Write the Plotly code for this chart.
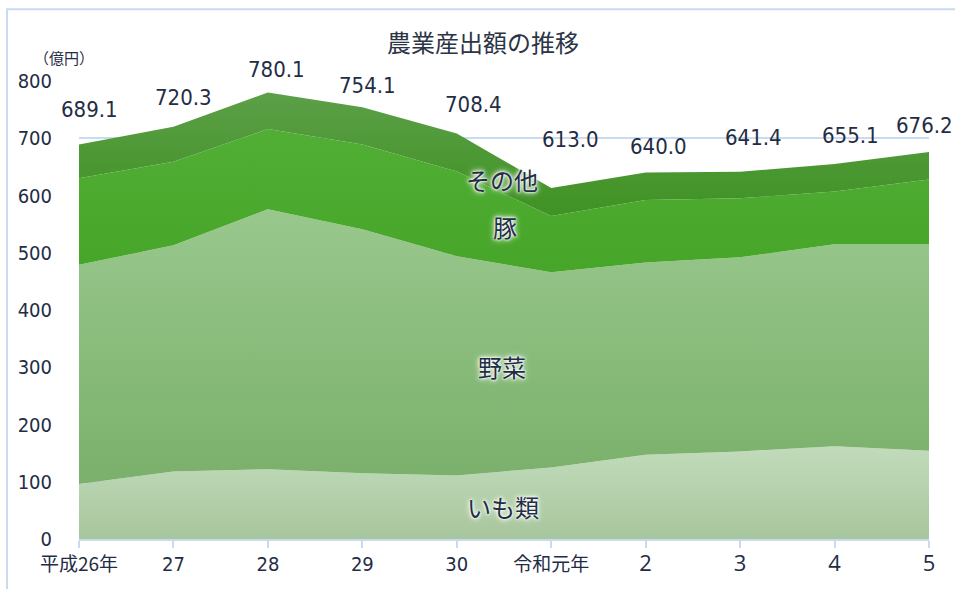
import plotly.graph_objects as go

# ---- data ----
years = ["平成26年", "27", "28", "29", "30", "令和元年", "2", "3", "4", "5"]
imo = [96.0, 118.0, 122.0, 115.0, 111.0, 125.0, 147.0, 153.0, 162.0, 154.0]
yasai = [383.0, 395.0, 454.0, 426.0, 383.0, 341.0, 336.0, 339.0, 353.0, 361.0]
buta = [151.0, 146.0, 140.0, 148.0, 148.0, 98.0, 109.0, 103.0, 92.0, 113.0]
sonota = [59.1, 61.3, 64.1, 65.1, 66.4, 49.0, 48.0, 46.4, 48.1, 48.2]
totals = [689.1, 720.3, 780.1, 754.1, 708.4, 613.0, 640.0, 641.4, 655.1, 676.2]
series_names = ["いも類", "野菜", "豚", "その他"]
y_ticks = [0, 100, 200, 300, 400, 500, 600, 700, 800]

# ---- layout constants ----
W, H = 955, 589
L, R, T, B = 79, 26, 81, 48
PW, PH = W - L - R, H - T - B

def px(x, y):
    return (x - L) / PW, 1 - (y - T) / PH

NUM_FONT = "Liberation Sans Narrow, DejaVu Sans Condensed, Roboto, sans-serif"
JP_FONT = "Noto Sans CJK JP, sans-serif"
TXT = "#1f2d45"
GRID = "#c8dbf1"

x = list(range(len(years)))

fills = [
    (imo, ["#a7c59c", "#c1dbba"], (0, 160)),
    (yasai, ["#7bb16c", "#98c78c"], (120, 560)),
    (buta, ["#47a52a", "#4fae33"], (480, 700)),
    (sonota, ["#3e9222", "#5c9f48"], (560, 780)),
]

fig = go.Figure()
for name, (vals, cs, (s0, s1)) in zip(series_names, fills):
    fig.add_trace(go.Scatter(
        x=x, y=vals, name=name, mode="lines", stackgroup="one",
        line=dict(width=0),
        fillcolor=cs[1],
        fillgradient=dict(type="vertical", colorscale=[[0, cs[0]], [1, cs[1]]],
                          start=s0, stop=s1),
        hoverinfo="skip",
    ))

# total labels
shifts = [(10, 35), (10, 29), (9, 23), (5, 22), (17, 29), (19, 49), (13, 26), (13, 34), (16, 28), (-5, 26)]
for xi, tv, (dx, dy) in zip(x, totals, shifts):
    fig.add_annotation(x=xi, y=tv, text=f"{tv:.1f}", showarrow=False,
                       xanchor="center", yanchor="middle",
                       xshift=dx, yshift=dy, font=dict(family=NUM_FONT, size=22, color=TXT))

# series labels inside areas
label_pos = [(503, 508), (502, 368), (505, 227), (502, 180)]
for name, (lx, ly) in zip(series_names, label_pos):
    ax, ay = px(lx, ly)
    fig.add_annotation(x=ax, y=ay, xref="paper", yref="paper", text=name, showarrow=False,
                       xanchor="center", yanchor="middle",
                       font=dict(family=JP_FONT, size=24, color=TXT,
                                 shadow="0 0 2px #ffffff, 0 0 3px #ffffff, 0 0 5px #f4faef, 0 0 7px #e4f1dc"))

# title
tx, ty = px(483, 41)
fig.add_annotation(x=tx, y=ty, xref="paper", yref="paper", text="農業産出額の推移", showarrow=False,
                   xanchor="center", yanchor="middle",
                   font=dict(family=JP_FONT, size=24, color="#2b3545"))

# unit label
ux, uy = px(64, 57)
fig.add_annotation(x=ux, y=uy, xref="paper", yref="paper", text="（億円）", showarrow=False,
                   xanchor="center", yanchor="middle",
                   font=dict(family=JP_FONT, size=15, color=TXT))

# border
bx0, by0 = px(7, 9)
bx1, by1 = px(1100, 800)
fig.add_shape(type="rect", xref="paper", yref="paper", x0=bx0, y0=by1, x1=bx1, y1=by0,
              line=dict(color=GRID, width=2), layer="below")

ticktext = []
for t in years:
    if t in ("27", "28", "29", "30"):
        ticktext.append(f'<span style="font-family:Liberation Sans Narrow, DejaVu Sans Condensed, Roboto;font-size:20px">{t}</span>')
    elif t in ("2", "3", "4", "5"):
        ticktext.append(f'<span style="font-family:Open Sans;font-size:22px">{t}</span>')
    else:
        ticktext.append(t)

fig.update_layout(
    width=W, height=H,
    margin=dict(l=L, r=R, t=T, b=B),
    paper_bgcolor="white", plot_bgcolor="white",
    showlegend=False,
    xaxis=dict(range=[0, len(years) - 1], tickmode="array", tickvals=x, ticktext=ticktext,
               showgrid=False, zeroline=False, showline=True, linecolor=GRID, linewidth=2,
               ticks="outside", ticklen=7, tickcolor=GRID, tickwidth=1.5,
               tickfont=dict(family=JP_FONT, size=19, color=TXT)),
    yaxis=dict(range=[0, 800], tickmode="array", tickvals=y_ticks,
               showgrid=True, gridcolor=GRID, gridwidth=2, zeroline=False, showline=False,
               ticks="", ticklabelstandoff=26,
               tickfont=dict(family=NUM_FONT, size=20, color=TXT)),
)

fig.write_html("out.html", config={"displayModeBar": False},
               post_script="document.body.style.margin='0';")
